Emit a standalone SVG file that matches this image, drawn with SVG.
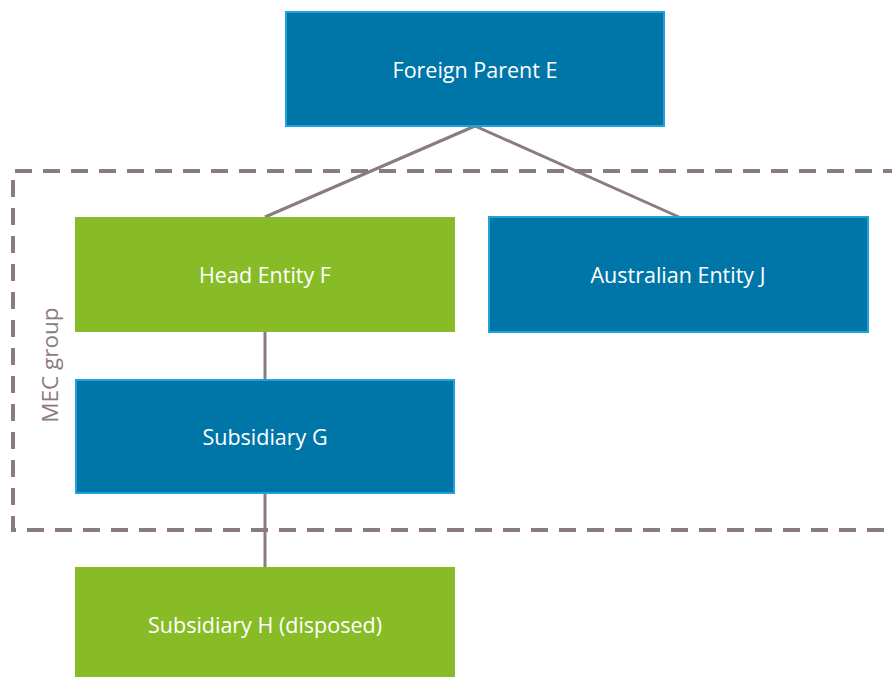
<svg xmlns="http://www.w3.org/2000/svg" width="892" height="677" viewBox="0 0 892 677">
  <style>
    .blue { fill: #0076a8; stroke: #1ea3dc; stroke-width: 2; }
    .green { fill: #88bc27; }
    .label { font-family: "Open Sans", "Liberation Sans", sans-serif; font-size: 21.5px; fill: #ffffff; text-anchor: middle; dominant-baseline: central; }
    .link { stroke: #8a7b7f; stroke-width: 3; fill: none; }
    .group { stroke: #8a7b7f; stroke-width: 4; fill: none; stroke-dasharray: 17 11; }
    .group-label { font-family: "Open Sans", "Liberation Sans", sans-serif; font-size: 22.5px; fill: #8a7b7f; text-anchor: middle; }
  </style>
  <rect width="892" height="677" fill="#ffffff"/>

  <!-- MEC group boundary -->
  <g id="mec-group">
    <path class="group" d="M 900 171 L 13 171 L 13 530 L 900 530"/>
    <text class="group-label" transform="translate(58 365) rotate(-90)">MEC group</text>
  </g>

  <!-- ownership links -->
  <g id="connectors">
    <line class="link" x1="475" y1="126" x2="265" y2="217"/>
    <line class="link" x1="475" y1="126" x2="679" y2="217"/>
    <line class="link" x1="265" y1="332" x2="265" y2="379"/>
    <line class="link" x1="265" y1="493" x2="265" y2="567"/>
  </g>

  <g id="foreign-parent-e">
    <rect class="blue" x="286" y="12" width="378" height="114"/>
    <text class="label" x="475" y="69">Foreign Parent E</text>
  </g>

  <g id="head-entity-f">
    <rect class="green" x="75" y="217" width="380" height="115"/>
    <text class="label" x="265" y="274">Head Entity F</text>
  </g>

  <g id="australian-entity-j">
    <rect class="blue" x="489" y="217" width="379" height="115"/>
    <text class="label" x="678" y="274">Australian Entity J</text>
  </g>

  <g id="subsidiary-g">
    <rect class="blue" x="76" y="380" width="378" height="113"/>
    <text class="label" x="265" y="436">Subsidiary G</text>
  </g>

  <g id="subsidiary-h">
    <rect class="green" x="75" y="567" width="380" height="110"/>
    <text class="label" x="265" y="624">Subsidiary H (disposed)</text>
  </g>
</svg>
